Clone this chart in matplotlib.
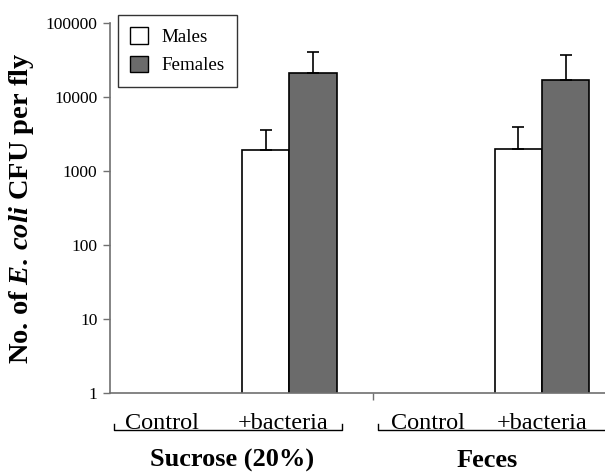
import numpy as np
import matplotlib
matplotlib.use("Agg")
import matplotlib.pyplot as plt
from matplotlib.patches import Patch

plt.rcParams['font.family'] = ['Liberation Serif', 'DejaVu Serif']
plt.rcParams['mathtext.fontset'] = 'custom'
plt.rcParams['mathtext.rm'] = 'Liberation Serif:bold'
plt.rcParams['mathtext.it'] = 'Liberation Serif:italic:bold'

# data (CFU per fly, log scale); controls had no bacteria
conditions = ["Control", "+bacteria", "Control", "+bacteria"]
groups = ["Sucrose (20%)", "Feces"]
males = [np.nan, 1950, np.nan, 2000]
males_err = [np.nan, 1650, np.nan, 1900]
females = [np.nan, 21000, np.nan, 17000]
females_err = [np.nan, 19500, np.nan, 20000]
yticks = [1, 10, 100, 1000, 10000, 100000]

pos = np.array([0, 1, 2, 3], dtype=float)
label_pos = [-0.01, 0.95, 2.1, 3.0]
w = 0.375
grey = '#6b6b6b'
axis_col = '#707070'

fig = plt.figure(figsize=(6.05, 4.73), dpi=100)
ax = fig.add_axes([0.1818, 0.169, 0.8182, 0.782])

ax.bar(pos - w / 2, males, w, color='white', edgecolor='black', linewidth=1.2,
       yerr=[np.zeros(4), males_err], capsize=4.5,
       error_kw=dict(ecolor='black', elinewidth=1.2, capthick=1.2))
ax.bar(pos + w / 2, females, w, color=grey, edgecolor='black', linewidth=1.2,
       yerr=[np.zeros(4), females_err], capsize=4.5,
       error_kw=dict(ecolor='black', elinewidth=1.2, capthick=1.2))

ax.set_yscale('log')
ax.set_ylim(1, 100000)
ax.set_xlim(-0.42, 3.5)
ax.set_yticks(yticks)
ax.set_yticklabels([str(v) for v in yticks], fontsize=12.5)
ax.minorticks_off()
ax.tick_params(axis='y', length=5, width=1, color=axis_col, direction='out', pad=4)

ax.set_xticks(label_pos)
ax.set_xticklabels(conditions, fontsize=17.5)
ax.tick_params(axis='x', length=0, pad=14)
ax.set_xticks([1.66], minor=True)
ax.tick_params(axis='x', which='minor', length=5, width=1, color=axis_col, direction='out')

for s in ['top', 'right']:
    ax.spines[s].set_visible(False)
for s in ['left', 'bottom']:
    ax.spines[s].set_color(axis_col)
    ax.spines[s].set_linewidth(1.2)

# group brackets and labels
tr = ax.get_xaxis_transform()
brackets = [(-0.39, 1.42), (1.70, 3.6)]
for x0, x1 in brackets:
    ax.plot([x0, x0, x1, x1], [-0.084, -0.1, -0.1, -0.084], color='black', lw=1,
            transform=tr, clip_on=False)
group_x = [0.55, 2.57]
for gx, g in zip(group_x, groups):
    ax.text(gx, -0.181, g, transform=tr, ha='center', va='center',
            fontsize=19, fontweight='bold')

ax.set_ylabel(r"No. of $\mathit{E.\,coli}$ CFU per fly", fontsize=20.5,
              fontweight='bold', labelpad=7)

handles = [Patch(facecolor='white', edgecolor='black', label='Males'),
           Patch(facecolor=grey, edgecolor='black', label='Females')]
leg = ax.legend(handles=handles, loc='upper left', bbox_to_anchor=(0.016, 1.022),
                borderaxespad=0, fontsize=13.7, frameon=True, fancybox=False,
                edgecolor='black', handlelength=0.95, handleheight=0.95,
                borderpad=0.65, labelspacing=0.5, handletextpad=0.7)
leg.get_frame().set_linewidth(1)

fig.savefig('out.png', dpi=100)
